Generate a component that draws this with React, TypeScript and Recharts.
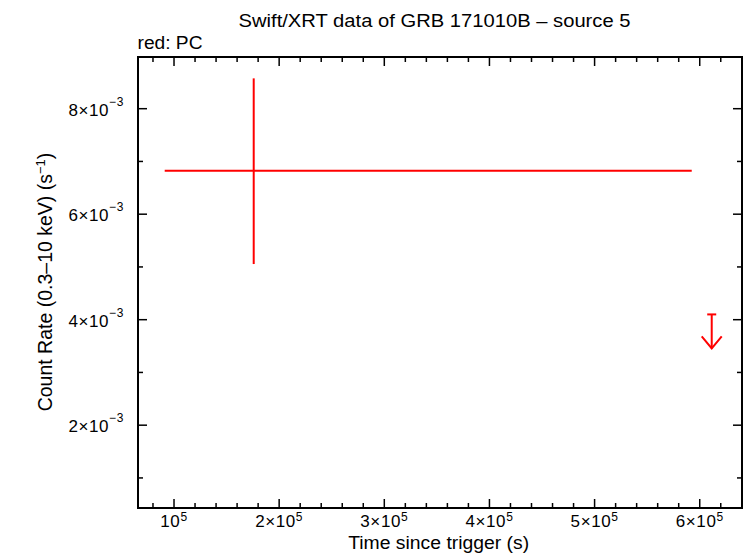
import React from "react";
import {
  ComposedChart,
  Scatter,
  ErrorBar,
  XAxis,
  YAxis,
  ReferenceArea,
} from "recharts";

// PC mode detection (time in s, rate in counts/s)
const pcTime = [175800];
const pcTimeErr = [[84650, 416600]];
const pcRate = [0.006825];
const pcRateErr = [[0.00177, 0.00175]];

// PC mode upper limit
const ulTime = [611400];
const ulRate = [0.0041];

const xTicks = [
  80000, 100000, 120000, 140000, 160000, 180000, 200000, 220000, 240000,
  260000, 280000, 300000, 320000, 340000, 360000, 380000, 400000, 420000,
  440000, 460000, 480000, 500000, 520000, 540000, 560000, 580000, 600000,
  620000, 640000,
];
const xMajorTicks = [100000, 200000, 300000, 400000, 500000, 600000];
const xTickMantissas = ["", "2×", "3×", "4×", "5×", "6×"];

const yTicks = [0.001, 0.002, 0.003, 0.004, 0.005, 0.006, 0.007, 0.008];
const yMajorTicks = [0.002, 0.004, 0.006, 0.008];
const yTickMantissas = ["2", "4", "6", "8"];

const X_DOMAIN = [65750, 640200];
const Y_DOMAIN = [0.00043, 0.00898];

const W = 746;
const H = 558;
const PLOT_W = 604;
const PLOT_H = 451;
const FONT = "'Liberation Sans', Arial, Helvetica, sans-serif";

const pcData = pcTime.map((t, i) => ({
  t,
  rate: pcRate[i],
  tErr: pcTimeErr[i],
  rateErr: pcRateErr[i],
}));
const ulData = ulTime.map((t, i) => ({ t, rate: ulRate[i] }));

function XTick(props: any) {
  const { x, y, payload } = props;
  const idx = xMajorTicks.indexOf(payload.value);
  const len = idx >= 0 ? 9 : 5;
  return (
    <g>
      <line x1={x} x2={x} y1={y} y2={y - len} stroke="#000" strokeWidth={1.5} />
      <line
        x1={x}
        x2={x}
        y1={y - PLOT_H}
        y2={y - PLOT_H + len}
        stroke="#000"
        strokeWidth={1.5}
      />
      {idx >= 0 && (
        <text
          x={x}
          y={y + 19}
          textAnchor="middle"
          fontFamily={FONT}
          fontSize={17}
          letterSpacing={0.6}
          fill="#000"
        >
          <tspan>{xTickMantissas[idx]}10</tspan>
          <tspan dy={-6} fontSize={12}>
            5
          </tspan>
        </text>
      )}
    </g>
  );
}

function YTick(props: any) {
  const { x, y, payload } = props;
  const idx = yMajorTicks.findIndex((v) => Math.abs(v - payload.value) < 1e-9);
  const len = idx >= 0 ? 9 : 5;
  return (
    <g>
      <line x1={x} x2={x + len} y1={y} y2={y} stroke="#000" strokeWidth={1.5} />
      <line
        x1={x + PLOT_W}
        x2={x + PLOT_W - len}
        y1={y}
        y2={y}
        stroke="#000"
        strokeWidth={1.5}
      />
      {idx >= 0 && (
        <text
          x={x - 14}
          y={y + 7}
          textAnchor="end"
          fontFamily={FONT}
          fontSize={17}
          letterSpacing={0.6}
          fill="#000"
        >
          <tspan>{yTickMantissas[idx]}×10</tspan>
          <tspan dy={-10} fontSize={12}>
            −3
          </tspan>
        </text>
      )}
    </g>
  );
}

function NoMarker() {
  return <g />;
}

function UpperLimit(props: any) {
  const { cx, cy } = props;
  return (
    <g stroke="#ff0000" strokeWidth={2} fill="none">
      <line x1={cx - 4.5} x2={cx + 4.5} y1={cy} y2={cy} />
      <line x1={cx} x2={cx} y1={cy} y2={cy + 34} />
      <polyline points={`${cx - 10},${cy + 22} ${cx},${cy + 34} ${cx + 10},${cy + 22}`} />
    </g>
  );
}

export default function App() {
  return (
    <div style={{ position: "absolute", left: 0, top: 0, width: W, height: H, background: "#fff" }}>
      <ComposedChart
        width={W}
        height={H}
        margin={{ top: 57, right: 4, bottom: 0, left: 0 }}
      >
        <XAxis
          xAxisId="x"
          type="number"
          dataKey="t"
          domain={X_DOMAIN}
          allowDataOverflow
          ticks={xTicks}
          interval={0}
          tickSize={0}
          tickMargin={0}
          tickLine={false}
          tick={XTick}
          height={50}
          axisLine={{ stroke: "#000", strokeWidth: 2 }}
        />
        <YAxis
          yAxisId="y"
          type="number"
          dataKey="rate"
          domain={Y_DOMAIN}
          allowDataOverflow
          ticks={yTicks}
          interval={0}
          tickSize={0}
          tickMargin={0}
          tickLine={false}
          tick={YTick}
          width={138}
          axisLine={{ stroke: "#000", strokeWidth: 2 }}
        />
        <ReferenceArea
          xAxisId="x"
          yAxisId="y"
          x1={X_DOMAIN[0]}
          x2={X_DOMAIN[1]}
          y1={Y_DOMAIN[0]}
          y2={Y_DOMAIN[1]}
          fill="none"
          stroke="#000"
          strokeWidth={2}
          ifOverflow="visible"
        />
        <Scatter
          xAxisId="x"
          yAxisId="y"
          data={pcData}
          dataKey="rate"
          shape={NoMarker}
          isAnimationActive={false}
        >
          <ErrorBar dataKey="tErr" direction="x" width={0} stroke="#ff0000" strokeWidth={2} isAnimationActive={false} />
          <ErrorBar dataKey="rateErr" direction="y" width={0} stroke="#ff0000" strokeWidth={2} isAnimationActive={false} />
        </Scatter>
        <Scatter
          xAxisId="x"
          yAxisId="y"
          data={ulData}
          dataKey="rate"
          shape={UpperLimit}
          isAnimationActive={false}
        />
      </ComposedChart>
      <svg
        width={W}
        height={H}
        style={{ position: "absolute", left: 0, top: 0, pointerEvents: "none" }}
      >
        <g fontFamily={FONT} fill="#000">
          <text x={434.5} y={27} textAnchor="middle" fontSize={17.5} textLength={392} lengthAdjust="spacingAndGlyphs">
            Swift/XRT data of GRB 171010B – source 5
          </text>
          <text x={137.5} y={49} fontSize={17.5} textLength={65} lengthAdjust="spacingAndGlyphs">
            red: PC
          </text>
          <text x={438.7} y={549} textAnchor="middle" fontSize={18} textLength={181} lengthAdjust="spacingAndGlyphs">
            Time since trigger (s)
          </text>
          <text
            transform="translate(52, 282) rotate(-90)"
            textAnchor="middle"
            fontSize={19.5}
          >
            <tspan>Count Rate (0.3–10 keV) (s</tspan>
            <tspan dy={-7} fontSize={13}>−1</tspan>
            <tspan dy={7}>)</tspan>
          </text>
        </g>
      </svg>
    </div>
  );
}
